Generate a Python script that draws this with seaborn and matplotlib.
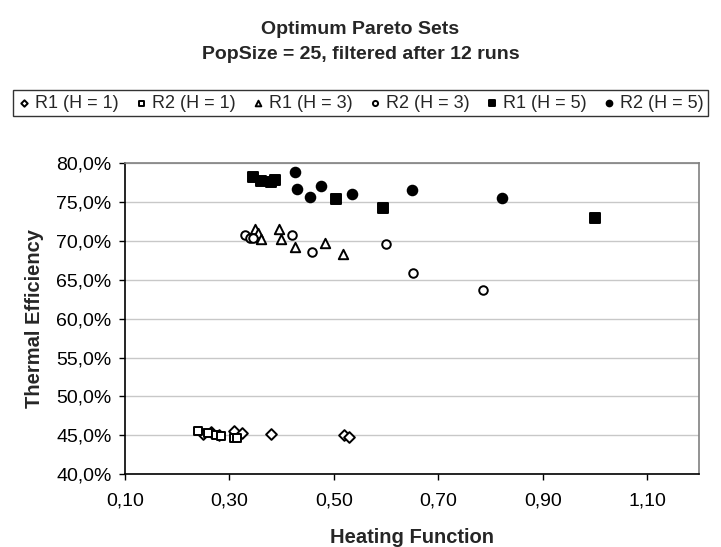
import matplotlib
matplotlib.use("Agg")
import matplotlib.pyplot as plt
import seaborn as sns
from matplotlib.ticker import FuncFormatter, MultipleLocator

# Heating function (x) and thermal efficiency in % (y) per series
r1_h1_x = [0.25, 0.265, 0.28, 0.31, 0.325, 0.38, 0.52, 0.53]
r1_h1_y = [45.2, 45.4, 45.1, 45.5, 45.3, 45.2, 45.0, 44.8]

r2_h1_x = [0.24, 0.26, 0.275, 0.285, 0.31, 0.315]
r2_h1_y = [45.5, 45.3, 45.0, 44.9, 44.7, 44.6]

r1_h3_x = [0.345, 0.35, 0.355, 0.36, 0.395, 0.40, 0.425, 0.483, 0.517]
r1_h3_y = [70.5, 71.5, 71.0, 70.2, 71.5, 70.2, 69.2, 69.7, 68.3]

r2_h3_x = [0.33, 0.34, 0.345, 0.42, 0.458, 0.60, 0.652, 0.786]
r2_h3_y = [70.8, 70.4, 70.3, 70.7, 68.6, 69.6, 65.9, 63.7]

r1_h5_x = [0.345, 0.36, 0.38, 0.388, 0.504, 0.594, 1.0]
r1_h5_y = [78.2, 77.7, 77.5, 77.8, 75.4, 74.2, 72.9]

r2_h5_x = [0.425, 0.43, 0.455, 0.475, 0.535, 0.65, 0.823]
r2_h5_y = [78.8, 76.7, 75.6, 77.1, 76.0, 76.5, 75.5]

series = [
    ("R1 (H = 1)", r1_h1_x, r1_h1_y, "D", "white", 30),
    ("R2 (H = 1)", r2_h1_x, r2_h1_y, "s", "white", 36),
    ("R1 (H = 3)", r1_h3_x, r1_h3_y, "^", "white", 46),
    ("R2 (H = 3)", r2_h3_x, r2_h3_y, "o", "white", 38),
    ("R1 (H = 5)", r1_h5_x, r1_h5_y, "s", "black", 42),
    ("R2 (H = 5)", r2_h5_x, r2_h5_y, "o", "black", 48),
]

sns.set_theme(style="white")
plt.rcParams["font.family"] = ["Liberation Sans", "DejaVu Sans"]

fig = plt.figure(figsize=(7.21, 5.47), dpi=100)
ax = fig.add_axes([0.173, 0.133, 0.797, 0.569])

for name, xs, ys, marker, face, size in series:
    sns.scatterplot(x=xs, y=ys, ax=ax, marker=marker, s=size,
                    facecolor=face, edgecolor="black", linewidth=1.4,
                    label=name, legend=False, zorder=3)

ax.set_xlim(0.1, 1.2)
ax.set_ylim(40, 80)
ax.set_xticks([0.1, 0.3, 0.5, 0.7, 0.9, 1.1])
ax.yaxis.set_major_locator(MultipleLocator(5))
ax.xaxis.set_major_formatter(FuncFormatter(lambda v, p: f"{v:.2f}".replace(".", ",")))
ax.yaxis.set_major_formatter(FuncFormatter(lambda v, p: f"{v:.1f}%".replace(".", ",")))

ax.grid(axis="y", color="#c8c8c8", linewidth=1)
ax.set_axisbelow(True)
for side in ["top", "right"]:
    ax.spines[side].set_color("#808080")
    ax.spines[side].set_linewidth(1.2)
for side in ["left", "bottom"]:
    ax.spines[side].set_color("black")
    ax.spines[side].set_linewidth(1.2)

ax.tick_params(axis="both", direction="out", length=4.5, width=1,
               color="black", labelsize=14, labelcolor="black")
ax.tick_params(axis="x", pad=9)
ax.tick_params(axis="y", pad=5)
ax.tick_params(left=True, bottom=True)

ax.set_xlabel("Heating Function", fontsize=14.5, fontweight="bold", labelpad=13)
ax.set_ylabel("Thermal Efficiency", fontsize=14.5, fontweight="bold", labelpad=9)

fig.suptitle("Optimum Pareto Sets\nPopSize = 25, filtered after 12 runs",
             fontsize=14, fontweight="bold", y=0.962, linespacing=1.6)

handles, labels = ax.get_legend_handles_labels()
leg = fig.legend(handles, labels, loc="upper center", bbox_to_anchor=(0.5, 0.835),
                 ncol=6, frameon=True, fancybox=False, fontsize=13,
                 handletextpad=0.2, columnspacing=0.85, borderpad=0.25,
                 handlelength=0.8, markerscale=0.6, borderaxespad=0)
leg.get_frame().set_edgecolor("black")
leg.get_frame().set_linewidth(1)

fig.savefig("out.png", dpi=100)
